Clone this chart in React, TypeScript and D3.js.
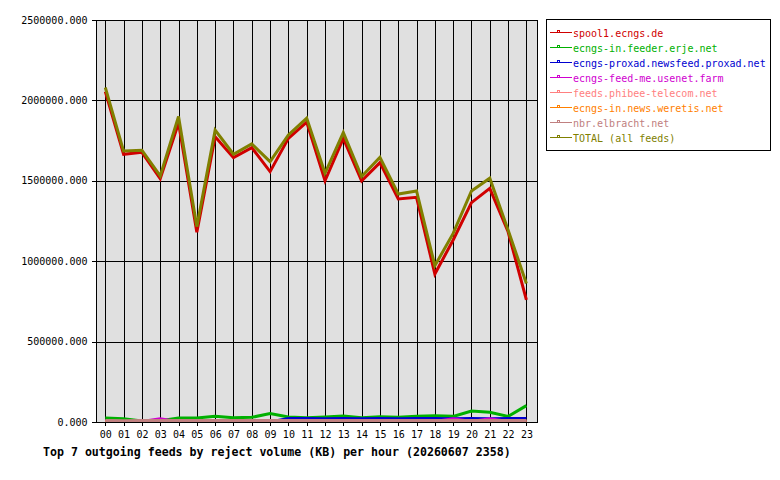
import React from 'react';
import * as d3 from 'd3';

const hours = ['00', '01', '02', '03', '04', '05', '06', '07', '08', '09', '10', '11',
  '12', '13', '14', '15', '16', '17', '18', '19', '20', '21', '22', '23'];

const spool1 = [2055000, 1665000, 1677000, 1513000, 1860000, 1180000, 1774000, 1644000,
  1706000, 1557000, 1764000, 1865000, 1500000, 1764000, 1499000, 1613000, 1387000, 1397000,
  920000, 1132000, 1364000, 1453000, 1183000, 759000];
const feeder = [25000, 21000, 7000, 8000, 25000, 25000, 35000, 27000, 29000, 52000, 31000,
  27000, 31000, 37000, 27000, 33000, 29000, 35000, 39000, 35000, 68000, 60000, 35000, 102000];
const proxad = [0, 0, 0, 0, 0, 0, 0, 0, 0, 0, 21000, 21000, 20000, 21000, 20000, 21000,
  20000, 21000, 21000, 20000, 21000, 20000, 21000, 21000];
const feedme = [2000, 2000, 3000, 20000, 2000, 2000, 2000, 2000, 2000, 2000, 2000, 2000,
  2000, 2000, 2000, 2000, 2000, 2000, 3000, 20000, 3000, 20000, 3000, 2000];
const phibee = [1000, 1500, 1000, 1200, 1000, 1400, 1000, 1100, 1300, 1000, 1200, 1000,
  1100, 1000, 1300, 1000, 1200, 1000, 1100, 1000, 1400, 1000, 1200, 1000];
const weretis = [2000, 1800, 2200, 2000, 1900, 2100, 2000, 1800, 2000, 2200, 2000, 1900,
  2100, 2000, 1800, 2000, 2200, 2000, 1900, 2100, 2000, 1800, 2000, 2100];
const elbracht = [9000, 8500, 9200, 8800, 9100, 9000, 8700, 9300, 9000, 8900, 9100, 9000,
  8800, 9200, 9000, 8900, 9100, 9000, 8800, 9000, 9200, 8900, 9000, 9100];
const total = [2080000, 1685000, 1690000, 1530000, 1900000, 1215000, 1816000, 1665000,
  1729000, 1619000, 1785000, 1890000, 1547000, 1800000, 1526000, 1646000, 1418000, 1437000,
  972000, 1173000, 1437000, 1516000, 1194000, 862000];

const yTicks = [0, 500000, 1000000, 1500000, 2000000, 2500000];

const series = [
  { name: 'spool1.ecngs.de', color: '#d00000', values: spool1 },
  { name: 'ecngs-in.feeder.erje.net', color: '#00b000', values: feeder },
  { name: 'ecngs-proxad.newsfeed.proxad.net', color: '#0000d0', values: proxad },
  { name: 'ecngs-feed-me.usenet.farm', color: '#d000d0', values: feedme },
  { name: 'feeds.phibee-telecom.net', color: '#ff8080', values: phibee },
  { name: 'ecngs-in.news.weretis.net', color: '#ff8000', values: weretis },
  { name: 'nbr.elbracht.net', color: '#c08080', values: elbracht },
  { name: 'TOTAL (all feeds)', color: '#808000', values: total },
];

const title = 'Top 7 outgoing feeds by reject volume (KB) per hour (20260607 2358)';

export default function App() {
  const width = 780;
  const height = 480;
  const plot = { left: 96.5, right: 537, top: 20, bottom: 422 };

  const x = d3.scaleLinear().domain([0, 23]).range([105.3, 526.4]);
  const y = d3.scaleLinear().domain([0, 2500000]).range([plot.bottom, plot.top]);

  const line = d3
    .line<number>()
    .x((_, i) => x(i))
    .y((d) => y(d));

  const font = "'DejaVu Sans Mono', monospace";

  return (
    <svg
      width={width}
      height={height}
      style={{ position: 'absolute', left: 0, top: 0, background: '#fff' }}
    >
      <defs>
        <clipPath id='plot-clip'>
          <rect x={plot.left} y={plot.top} width={plot.right - plot.left} height={plot.bottom - plot.top} />
        </clipPath>
      </defs>
      <rect
        x={plot.left}
        y={plot.top}
        width={plot.right - plot.left}
        height={plot.bottom - plot.top}
        fill='#e0e0e0'
      />
      <g className='y-grid' shapeRendering='crispEdges'>
        {yTicks.map((t) => (
          <g key={t}>
            <line x1={92} x2={plot.right} y1={Math.round(y(t)) + 0.5} y2={Math.round(y(t)) + 0.5} stroke='#000' />
            <text
              x={87.5}
              y={y(t) + 3.5}
              textAnchor='end'
              fontFamily={font}
              fontSize={10}
              fill='#000'
            >
              {d3.format('.3f')(t)}
            </text>
          </g>
        ))}
      </g>
      <g className='x-grid' shapeRendering='crispEdges'>
        {hours.map((h, i) => (
          <g key={h}>
            <line
              x1={Math.round(x(i)) + 0.5}
              x2={Math.round(x(i)) + 0.5}
              y1={plot.top}
              y2={426}
              stroke='#000'
            />
            <text
              x={x(i) + 0.5}
              y={438}
              textAnchor='middle'
              fontFamily={font}
              fontSize={10}
              fill='#000'
            >
              {h}
            </text>
          </g>
        ))}
      </g>
      <g className='lines' clipPath='url(#plot-clip)'>
        {series.map((s) => (
          <path
            key={s.name}
            d={line(s.values) || ''}
            fill='none'
            stroke={s.color}
            strokeWidth={3}
          />
        ))}
      </g>
      <rect
        x={plot.left}
        y={plot.top + 0.5}
        width={plot.right - plot.left}
        height={plot.bottom - plot.top}
        fill='none'
        stroke='#000'
        shapeRendering='crispEdges'
      />
      <g className='legend'>
        <rect
          x={546.5}
          y={19.5}
          width={224}
          height={131}
          fill='#fff'
          stroke='#000'
          shapeRendering='crispEdges'
        />
        {series.map((s, i) => {
          const ly = 32.5 + i * 15;
          return (
            <g key={s.name} shapeRendering='crispEdges'>
              <line x1={550} x2={572} y1={ly} y2={ly} stroke={s.color} strokeWidth={1} />
              <rect
                x={557.5}
                y={ly - 2.5}
                width={2}
                height={2}
                fill='none'
                stroke={s.color}
              />
              <text x={573} y={ly + 4} fontFamily={font} fontSize={10} fill={s.color}>
                {s.name}
              </text>
            </g>
          );
        })}
      </g>
      <text
        x={43}
        y={455.5}
        fontFamily={font}
        fontSize={11.6}
        fontWeight='bold'
        fill='#000'
      >
        {title}
      </text>
    </svg>
  );
}
